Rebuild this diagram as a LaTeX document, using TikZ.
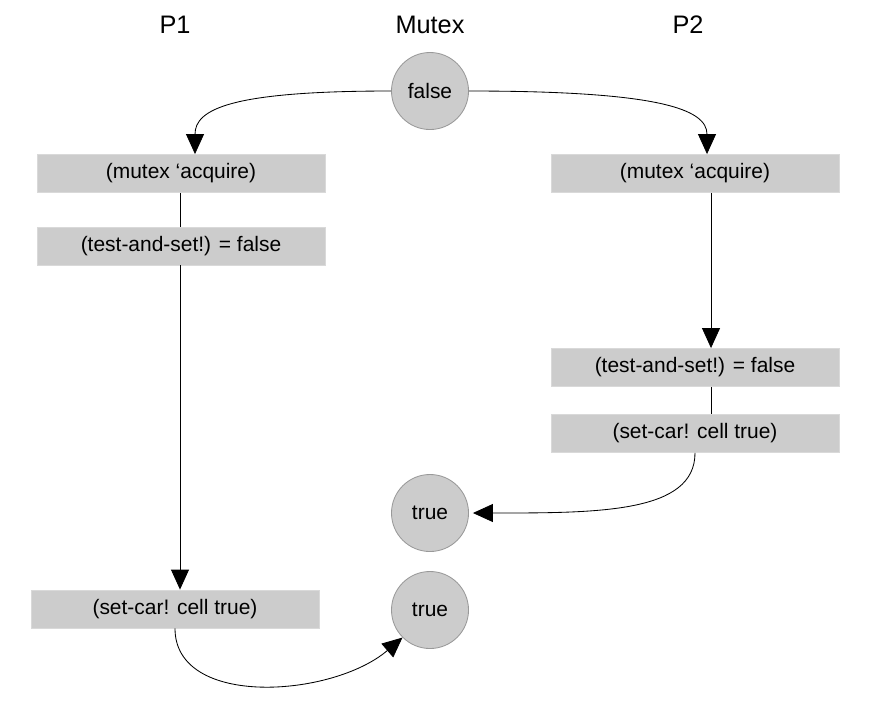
\documentclass[tikz,border=0pt]{standalone}
\usepackage{fontspec}
\setmainfont{Liberation Sans}
\usetikzlibrary{arrows.meta}
\begin{document}
\begin{tikzpicture}[x=0.025cm, y=-0.025cm,
	stepbox/.style={fill=black!20, draw=black!15, minimum width=7.2cm, minimum height=0.95cm, inner sep=0pt, font=\fontsize{14.9}{18}\selectfont},
	mutexval/.style={circle, fill=black!20, draw=black!40, minimum size=1.925cm, inner sep=0pt, font=\fontsize{14.9}{18}\selectfont},
	colhead/.style={font=\fontsize{18}{22}\selectfont},
	arr/.style={-{Triangle[length=0.5cm, width=0.45cm]}},
	every path/.style={line width=0.6pt}]
	\useasboundingbox (0,0) rectangle (892,726);
	\node[colhead] (p1) at (175,25) {P1};
	\node[colhead] (mx) at (430,25) {Mutex};
	\node[colhead] (p2) at (688,25) {P2};
	
	\node[mutexval] (mfalse) at (430,91) {false};
	\node[mutexval] (mtrue1) at (430,513) {true};
	\node[mutexval] (mtrue2) at (430,610) {true};
	
	\node[stepbox] (acq1) at (181,173.5) {(mutex ‘acquire)};
	\node[stepbox] (tas1) at (181,246) {(test-and-set!) = false};
	\node[stepbox] (set1) at (175,609) {(set-car! cell true)};
	\node[stepbox] (acq2) at (695,173.5) {(mutex ‘acquire)};
	\node[stepbox] (tas2) at (695,367.5) {(test-and-set!) = false};
	\node[stepbox] (set2) at (695,433.5) {(set-car! cell true)};
	
	\draw[arr] (mfalse.west) .. controls +(-160,0) and +(0,-45) .. ([xshift=0.35cm]acq1.north);
	\draw[arr] (mfalse.east) .. controls +(190,0) and +(0,-45) .. ([xshift=0.3cm]acq2.north);
	\draw ([xshift=-0.025cm]acq1.south) -- ([xshift=-0.025cm]tas1.north);
	\draw[arr] ([xshift=-0.025cm]tas1.south) -- ([xshift=-0.025cm]tas1.south |- set1.north);
	\draw[arr] ([xshift=0.4cm]acq2.south) -- ([xshift=0.4cm]tas2.north);
	\draw ([xshift=0.4cm]tas2.south) -- ([xshift=0.4cm]set2.north);
	\draw[arr, shorten >=0.1cm] (set2.south) .. controls +(0,60) and +(130,0) .. (mtrue1.east);
	\draw[arr] (set1.south) .. controls +(0,80) and +(-70,60) .. (mtrue2.225);
\end{tikzpicture}
\end{document}
